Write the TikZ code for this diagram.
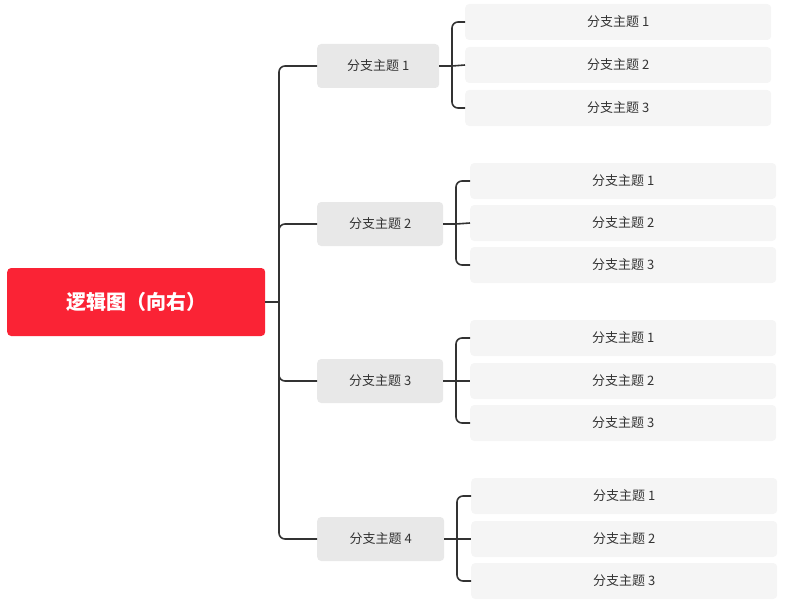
\documentclass[tikz,border=0pt]{standalone}
\usepackage{fontspec}
\setmainfont{Noto Sans CJK SC}
\begin{document}
\begin{tikzpicture}[x=1pt,y=-1pt,
  rootbox/.style={fill=rootred,rounded corners=4pt,text=white,font=\fontsize{20}{24}\selectfont\bfseries,minimum width=258pt,minimum height=68pt,anchor=west},
  branchbox/.style={fill=brgray,rounded corners=4pt,text=txt,font=\fontsize{13}{16}\selectfont,minimum height=44pt,anchor=west},
  leafbox/.style={fill=lfgray,rounded corners=4pt,text=txt,font=\fontsize{13}{16}\selectfont,minimum width=306pt,minimum height=36pt,anchor=west},
  conn/.style={draw=lin,line width=1.6pt,rounded corners=6pt}]
\definecolor{rootred}{HTML}{FA2335}
\definecolor{brgray}{HTML}{E8E8E8}
\definecolor{lfgray}{HTML}{F5F5F5}
\definecolor{txt}{HTML}{333333}
\definecolor{lin}{HTML}{333333}
\useasboundingbox (0,0) rectangle (786,607);
\node[rootbox] (r) at (7,302) {逻辑图（向右）};
\coordinate (t) at (279,302);
\draw[conn] (r.east) -- (t);
\foreach \i/\y/\w/\lx/\bx/\la/\lb/\lc in {1/66/122/465/452/22/65/108, 2/224/126/470/456/181/223/265, 3/381/126/470/456/338/381/423, 4/539/127/471/457/496/539/581}{
  \node[branchbox,minimum width=\w pt] (b\i) at (317,\y) {分支主题 \i};
  \draw[conn] (t) |- (b\i.west);
  \node[leafbox] (l\i a) at (\lx,\la) {分支主题 1};
  \node[leafbox] (l\i b) at (\lx,\lb) {分支主题 2};
  \node[leafbox] (l\i c) at (\lx,\lc) {分支主题 3};
  \coordinate (k\i) at (\bx,\y);
  \draw[conn] (b\i.east) -- (k\i);
  \draw[conn] (l\i a.west) -| (k\i) |- (l\i c.west);
  \draw[conn] (k\i) -- (l\i b.west);
}
\end{tikzpicture}
\end{document}
